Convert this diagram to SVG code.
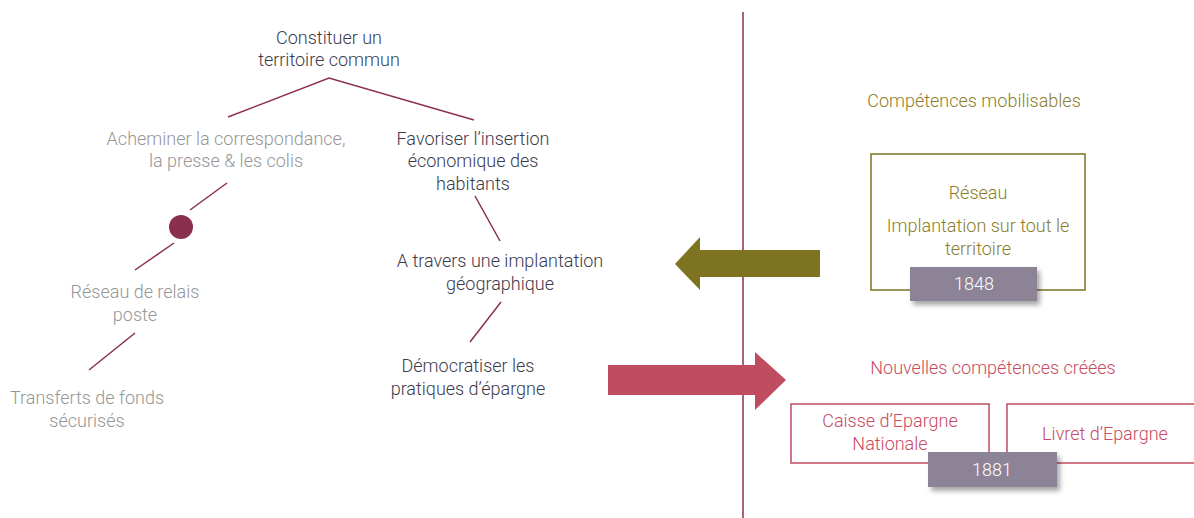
<svg xmlns="http://www.w3.org/2000/svg" width="1194" height="518" viewBox="0 0 1194 518">
<defs>
<style>
text{font-family:Roboto,"Liberation Sans",sans-serif;font-weight:300;font-size:18px;text-anchor:middle}
.dk{fill:#3b3a4c}
.gr{fill:#969696}
.ol{fill:#8a7d2a}
.rd{fill:#c94a62}
.wh{fill:#ffffff}
.ln{stroke:#8b2f4e;stroke-width:1.5;fill:none}
.ob{fill:none;stroke:#7d7320;stroke-width:1.5}
.rb{fill:none;stroke:#c04c60;stroke-width:1.5}
.tag{fill:#8c8496}
</style>
<filter id="sh" x="-20%" y="-30%" width="150%" height="180%">
<feDropShadow dx="3" dy="4" stdDeviation="2.5" flood-color="#000" flood-opacity="0.35"/>
</filter>
</defs>
<rect width="1194" height="518" fill="#ffffff"/>
<g id="connectors">
<line class="ln" x1="743" y1="12" x2="743" y2="518"/>
<polyline class="ln" points="228,117 329,78 474,120"/>
<line class="ln" x1="227" y1="183" x2="190" y2="210"/>
<line class="ln" x1="174" y1="243" x2="135" y2="270"/>
<line class="ln" x1="135" y1="333" x2="89" y2="370"/>
<line class="ln" x1="475" y1="196" x2="500" y2="241"/>
<line class="ln" x1="501" y1="302" x2="470" y2="342"/>
<polygon fill="#7d7320" points="820,250 700,250 700,237 675,264 700,290 700,277 820,277"/>
<polygon fill="#c04c60" points="608,365 755,365 755,352 786,380 755,410 755,395 608,395"/>
</g>
<g id="n-root"><text class="dk" x="329" y="44">Constituer un</text><text class="dk" x="329" y="66">territoire commun</text></g>
<g id="n-acheminer"><text class="gr" x="226" y="145">Acheminer la correspondance,</text><text class="gr" x="226" y="167">la presse &amp; les colis</text></g>
<g id="n-dot"><circle cx="181" cy="227" r="12" fill="#8b2f4e"/></g>
<g id="n-reseau"><text class="gr" x="135" y="298">Réseau de relais</text><text class="gr" x="135" y="321">poste</text></g>
<g id="n-transferts"><text class="gr" x="87" y="404">Transferts de fonds</text><text class="gr" x="87" y="427">sécurisés</text></g>
<g id="n-favoriser"><text class="dk" x="473" y="145">Favoriser l’insertion</text><text class="dk" x="473" y="167">économique des</text><text class="dk" x="473" y="190">habitants</text></g>
<g id="n-atravers"><text class="dk" x="500" y="267">A travers une implantation</text><text class="dk" x="500" y="290">géographique</text></g>
<g id="n-democratiser"><text class="dk" x="468" y="372">Démocratiser les</text><text class="dk" x="468" y="395">pratiques d’épargne</text></g>
<g id="n-mobilisables"><text class="ol" x="974" y="107">Compétences mobilisables</text></g>
<g id="n-box1848">
<rect class="ob" x="871" y="154" width="214" height="136"/>
<text class="ol" x="978" y="199">Réseau</text>
<text class="ol" x="978" y="232">Implantation sur tout le</text>
<text class="ol" x="978" y="255">territoire</text>
<rect class="tag" x="910" y="267" width="127" height="34" filter="url(#sh)"/>
<text class="wh" x="974" y="290">1848</text>
</g>
<g id="n-nouvelles"><text class="rd" x="993" y="374">Nouvelles compétences créées</text></g>
<g id="n-caisse"><rect class="rb" x="791" y="404" width="198" height="59"/><text class="rd" x="890" y="427">Caisse d’Epargne</text><text class="rd" x="890" y="450">Nationale</text></g>
<g id="n-livret"><rect class="rb" x="1007" y="404" width="200" height="59"/><text class="rd" x="1105" y="440">Livret d’Epargne</text></g>
<g id="n-1881"><rect class="tag" x="928" y="452" width="129" height="35" filter="url(#sh)"/><text class="wh" x="992" y="476">1881</text></g>
</svg>
